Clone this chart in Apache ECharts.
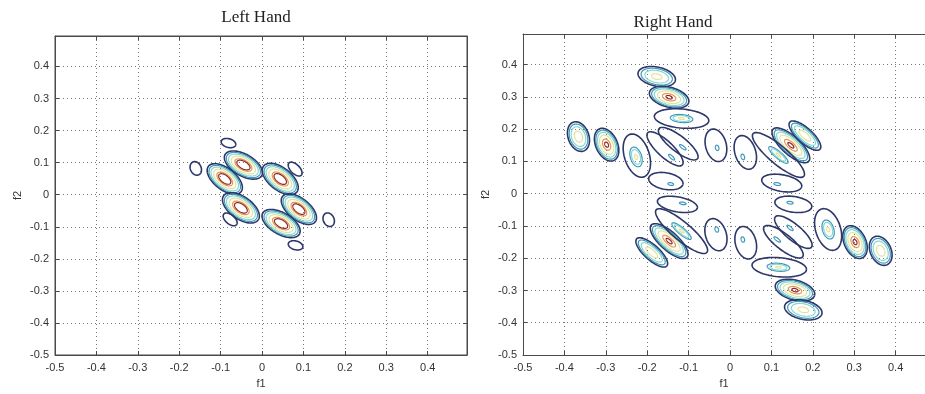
<!DOCTYPE html>
<html>
<head>
<meta charset="utf-8">
<script src="https://cdn.jsdelivr.net/npm/echarts@6/dist/echarts.min.js"></script>
<style>
html,body{margin:0;padding:0;background:#fff;}
#chart{width:925px;height:394px;}
</style>
</head>
<body>
<div id="chart"></div>
<script>
// ---- data ----
const PANEL_TITLES = ['Left Hand', 'Right Hand'];
const X_NAME = 'f1';
const Y_NAME = 'f2';
const AXIS_MIN = -0.5;
const AXIS_MAX = 0.495;
const RIGHT_VISIBLE_MAX = 0.471; // right panel is cut off by the image edge
const TICK_STEP = 0.1;
// contour levels (relative) and their colours, outermost first
const LEVELS = [1, 1.8, 3.2, 6, 11, 14];
const LEVEL_COLORS = ['#2d3768', '#3f98bb', '#86d8cf', '#e6e29a', '#e2964f', '#922828'];

// peaks: [cx, cy, semiMajor, semiMinor, angleDeg, amplitude, innerScale, innerDx, innerDy]
const LEFT_PEAKS = [
  [-0.045, 0.0925, 0.051, 0.026, -30, 20],
  [-0.090, 0.049, 0.050, 0.026, -38, 20],
  [0.044, 0.049, 0.051, 0.027, -38, 20],
  [-0.051, -0.041, 0.051, 0.027, -35, 20],
  [0.089, -0.045, 0.050, 0.026, -38, 20],
  [0.046, -0.090, 0.051, 0.026, -30, 20],
  [-0.081, 0.161, 0.018, 0.0105, -15, 1.5],
  [-0.160, 0.082, 0.017, 0.013, -65, 1.5],
  [0.080, 0.080, 0.021, 0.011, -45, 1.5],
  [-0.077, -0.077, 0.020, 0.011, -40, 1.5],
  [0.161, -0.078, 0.017, 0.013, -65, 1.5],
  [0.081, -0.158, 0.018, 0.0105, -15, 1.5]
];

const RIGHT_PEAKS = [
  [-0.177, 0.363, 0.046, 0.023, -12, 7],
  [-0.147, 0.299, 0.049, 0.024, -15, 15],
  [-0.117, 0.233, 0.066, 0.023, -5, 6.5, 0.5],
  [-0.366, 0.177, 0.037, 0.025, -70, 8],
  [-0.298, 0.152, 0.042, 0.026, -65, 15],
  [-0.225, 0.118, 0.054, 0.030, -72, 6.5, 0.55, -0.002, -0.004],
  [-0.147, -0.147, 0.058, 0.022, -42, 15],
  [-0.189, -0.182, 0.049, 0.018, -42, 8],
  [-0.117, -0.116, 0.080, 0.022, -40, 6.5, 0.45],
  [0.147, 0.150, 0.058, 0.022, -42, 15],
  [0.181, 0.180, 0.049, 0.018, -42, 8],
  [0.117, 0.120, 0.080, 0.022, -40, 6.5, 0.45],
  [0.237, -0.111, 0.052, 0.030, -72, 6.5, 0.55],
  [0.302, -0.150, 0.042, 0.026, -65, 15],
  [0.364, -0.177, 0.037, 0.025, -65, 8],
  [0.119, -0.228, 0.066, 0.023, -5, 6.5, 0.5, -0.002, 0],
  [0.157, -0.299, 0.049, 0.024, -15, 15],
  [0.177, -0.360, 0.046, 0.023, -12, 7],
  [-0.157, 0.139, 0.057, 0.019, -43, 1.83, 1, 0.016, -0.026],
  [-0.125, 0.155, 0.059, 0.019, -38, 1.83, 1, 0.011, -0.011],
  [-0.034, 0.150, 0.040, 0.025, -75, 1.83, 1, 0.003, -0.008],
  [-0.155, 0.039, 0.042, 0.020, -10, 1.83, 1, 0.012, -0.009],
  [-0.127, -0.033, 0.049, 0.018, -10, 1.83, 1, 0.013, 0.003],
  [-0.034, -0.127, 0.040, 0.025, -72, 1.83, 1, 0.002, 0.016],
  [0.037, 0.128, 0.042, 0.025, -72, 1.83, 1, -0.006, -0.014],
  [0.038, -0.152, 0.040, 0.025, -75, 1.83, 1, -0.007, 0.010],
  [0.153, -0.033, 0.045, 0.019, -8, 1.83, 1, -0.008, 0.005],
  [0.125, 0.033, 0.049, 0.020, -10, 1.83, 1, -0.011, -0.003],
  [0.153, -0.119, 0.057, 0.019, -40, 1.83, 1, -0.008, 0.013],
  [0.129, -0.149, 0.059, 0.019, -38, 1.83, 1, -0.015, 0.007]
];

// ---- rendering ----
function normalize(p) {
  return [p[0], p[1], p[2], p[3], p[4], p[5],
    p[6] === undefined ? 1 : p[6], p[7] || 0, p[8] || 0];
}

function ellipsePoints(cx, cy, ra, rb, angDeg) {
  const th = angDeg * Math.PI / 180;
  const c = Math.cos(th), s = Math.sin(th);
  const pts = [];
  const N = 72;
  for (let i = 0; i <= N; i++) {
    const t = 2 * Math.PI * i / N;
    const x = ra * Math.cos(t), y = rb * Math.sin(t);
    pts.push([cx + x * c - y * s, cy - (x * s + y * c)]);
  }
  return pts;
}

function renderPeak(params, api) {
  const cx = api.value(0), cy = api.value(1);
  const a = api.value(2), b = api.value(3), ang = api.value(4);
  const amp = api.value(5), core = api.value(6), dx = api.value(7), dy = api.value(8);
  const sx = api.size([1, 0])[0];
  const c0 = api.coord([cx, cy]);
  const c1 = api.coord([cx + dx, cy + dy]);
  const children = [];
  const base = Math.log(amp / LEVELS[0]);
  for (let k = 0; k < LEVELS.length; k++) {
    if (amp <= LEVELS[k]) break;
    let sc = Math.sqrt(Math.log(amp / LEVELS[k]) / base);
    const ctr = k === 0 ? c0 : c1;
    if (k > 0) sc *= core;
    children.push({
      type: 'polyline',
      shape: { points: ellipsePoints(ctr[0], ctr[1], a * sc * sx, b * sc * sx, ang) },
      style: { stroke: LEVEL_COLORS[k], lineWidth: k === 0 ? 1.6 : 1.2, fill: null }
    });
  }
  return { type: 'group', children: children };
}

function fmt(v) {
  const r = Math.round(v * 10) / 10;
  return r === 0 ? '0' : String(r);
}

const grids = [
  { left: 55, top: 36, width: 412, height: 327, show: true, borderColor: '#4a4a4a', borderWidth: 1 },
  { left: 523, top: 34, width: 402, height: 327, show: false }
];
const xMax = [AXIS_MAX, RIGHT_VISIBLE_MAX];

const labelStyle = { color: '#333', fontSize: 11, fontFamily: 'Liberation Sans, Arial, sans-serif' };
const xAxes = [], yAxes = [], series = [], titles = [];
const titlePos = [[251, 4], [668, 9]];

[LEFT_PEAKS, RIGHT_PEAKS].forEach((peaks, i) => {
  const common = {
    type: 'value', gridIndex: i, min: AXIS_MIN, interval: TICK_STEP,
    axisLine: { show: true, onZero: false, lineStyle: { color: '#4a4a4a', width: 1 } },
    axisTick: { show: true, inside: true, length: 4, lineStyle: { color: '#4a4a4a' } }
  };
  const dotted = { show: true, lineStyle: { type: [1, 3], color: '#777', width: 1 } };
  xAxes.push(Object.assign({}, common, {
    max: xMax[i], position: 'bottom',
    axisLabel: Object.assign({ margin: 7, showMaxLabel: false, formatter: fmt }, labelStyle),
    splitLine: dotted,
    name: X_NAME, nameLocation: 'middle', nameGap: 23,
    nameTextStyle: labelStyle
  }));
  xAxes.push(Object.assign({}, common, {
    max: xMax[i], position: 'top', axisLabel: { show: false }, splitLine: { show: false }
  }));
  yAxes.push(Object.assign({}, common, {
    max: AXIS_MAX, position: 'left',
    axisLabel: Object.assign({ margin: 6, showMaxLabel: false, formatter: fmt }, labelStyle),
    splitLine: dotted,
    name: Y_NAME, nameLocation: 'middle', nameGap: 32,
    nameTextStyle: labelStyle
  }));
  yAxes.push(Object.assign({}, common, {
    max: AXIS_MAX, position: 'right', show: i === 0,
    axisLabel: { show: false }, splitLine: { show: false }
  }));
  series.push({
    type: 'custom',
    xAxisIndex: i * 2, yAxisIndex: i * 2,
    silent: true,
    encode: { x: 0, y: 1 },
    renderItem: renderPeak,
    data: peaks.map(normalize)
  });
  titles.push({
    text: PANEL_TITLES[i], left: titlePos[i][0], top: titlePos[i][1], textAlign: 'center',
    textStyle: { fontFamily: 'Liberation Serif, Times New Roman, serif', fontSize: 17, fontWeight: 'normal', color: '#222' }
  });
});

const chart = echarts.init(document.getElementById('chart'), null, { renderer: 'canvas' });
chart.setOption({
  animation: false,
  backgroundColor: '#fff',
  title: titles,
  grid: grids,
  xAxis: xAxes,
  yAxis: yAxes,
  series: series
});
</script>
</body>
</html>
